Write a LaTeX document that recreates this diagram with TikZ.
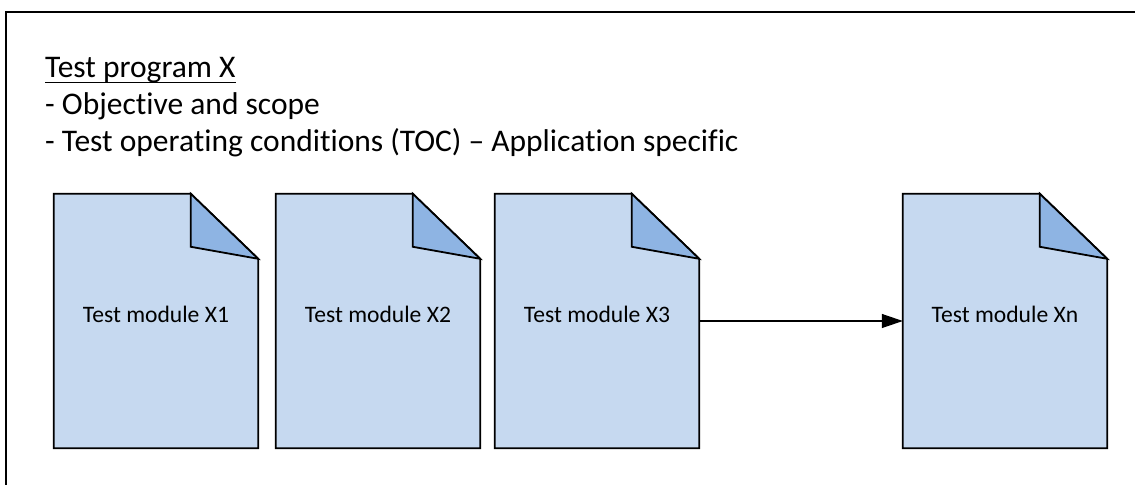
\documentclass[tikz,border=0pt]{standalone}
\usepackage{fontspec}
\setmainfont{Carlito}[Ligatures={NoCommon}]
\usetikzlibrary{arrows.meta}
\definecolor{docfill}{HTML}{C6D9F0}
\definecolor{foldfill}{HTML}{8EB4E3}
\begin{document}
\begin{tikzpicture}[x=1bp,y=-1bp,
  docbox/.style={draw=none,minimum width=204bp,minimum height=254bp,inner sep=0pt},
  docline/.style={line width=1.8bp,line join=miter},
  doclabel/.style={inner sep=0pt,font=\fontsize{23.6bp}{28bp}\selectfont},
  headtext/.style={inner sep=0pt,anchor=base west,font=\fontsize{31.5bp}{37bp}\selectfont},
  flow/.style={line width=1.2bp,-{Triangle[length=21bp,width=14bp]}}]
\useasboundingbox (0,0) rectangle (1135,485);
\fill[white] (0,0) rectangle (1135,485);
% outer frame (only top and left edges visible)
\draw[line width=1.5bp] (6,485) -- (6,12) -- (1135,12);
% heading
\node[headtext] (h1) at (45,78) {Test program X};
\draw[line width=1.6bp] ([yshift=-4.5bp]h1.base west) -- ([yshift=-4.5bp]h1.base east);
\node[headtext] (h2) at (45,115) {- Objective and scope};
\node[headtext] (h3) at (45,152) {- Test operating conditions (TOC) \textendash\ Application specific};
% documents
\foreach \n/\x/\t in {d1/156/X1,d2/378/X2,d3/597/X3,dn/1005/Xn}{
  \node[docbox] (\n) at (\x,321) {};
  \filldraw[docline,fill=docfill]
    (\n.north west) -- ([xshift=137bp]\n.north west) -- ([yshift=-65bp]\n.north east)
    -- (\n.south east) -- (\n.south west) -- cycle;
  \filldraw[docline,fill=foldfill]
    ([xshift=137bp]\n.north west) -- ([yshift=-65bp]\n.north east)
    -- ([xshift=137bp,yshift=-53bp]\n.north west) -- cycle;
  \node[doclabel,anchor=base] (l\n) at ([yshift=-2bp]\n.center) {Test module \t};
}
\draw[flow] (d3.east) -- (dn.west);
\end{tikzpicture}
\end{document}
